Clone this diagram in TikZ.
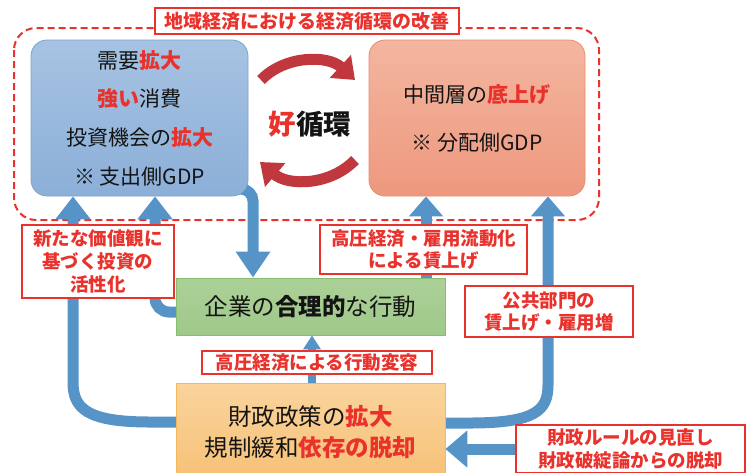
\documentclass[tikz,border=0pt]{standalone}
\usepackage{fontspec}
\setmainfont{Noto Sans CJK JP}
\usetikzlibrary{arrows.meta,backgrounds}
\definecolor{jred}{RGB}{234,50,45}
\definecolor{abl}{RGB}{86,148,200}
\definecolor{cyc}{RGB}{192,56,62}
\definecolor{txt}{RGB}{20,20,20}
\begin{document}
\begin{tikzpicture}[x=1pt,y=-1pt,
  lbl/.style={draw=jred, line width=1.3pt, fill=white, text=jred, font=\bfseries\fontsize{18.5}{22.5}\selectfont, align=center, inner sep=0pt},
  boxt/.style={align=center, inner sep=0pt, line width=0.8pt, text=txt},
  conn/.style={draw=abl, line width=11pt},
  hd/.style={-{Triangle[length=23pt,width=34pt]}},
  cyca/.style={draw=cyc, line width=11pt, -{Triangle[length=20pt,width=30pt]}},
]
\clip (0,0) rectangle (752,472);

% boxes
\node[boxt, rounded corners=16pt, top color={rgb,255:red,166;green,195;blue,226}, bottom color={rgb,255:red,140;green,175;blue,216}, draw={rgb,255:red,125;green,163;blue,207}, minimum width=217pt, minimum height=156pt, font=\fontsize{21}{38.7}\selectfont] (bb) at (139.5,118)
 {需要\textcolor{jred}{\bfseries 拡大}\\\textcolor{jred}{\bfseries 強い}消費\\投資機会の\textcolor{jred}{\bfseries 拡大}\\※ 支出側GDP};
\node[boxt, rounded corners=16pt, top color={rgb,255:red,243;green,182;blue,160}, bottom color={rgb,255:red,238;green,152;blue,126}, draw={rgb,255:red,233;green,141;blue,111}, minimum width=216pt, minimum height=156pt, font=\fontsize{21}{48}\selectfont] (sb) at (477,118)
 {中間層の\textcolor{jred}{\bfseries 底上げ}\\※ 分配側GDP};
\node[boxt, top color={rgb,255:red,172;green,209;blue,152}, bottom color={rgb,255:red,160;green,200;blue,138}, draw={rgb,255:red,136;green,188;blue,110}, minimum width=269pt, minimum height=57pt, font=\fontsize{23.5}{28}\selectfont] (gb) at (310.5,306.5)
 {企業の\textbf{合理的}な行動};
\node[boxt, top color={rgb,255:red,250;green,212;blue,156}, bottom color={rgb,255:red,246;green,192;blue,118}, draw={rgb,255:red,245;green,182;blue,92}, minimum width=269pt, minimum height=99pt, font=\fontsize{23.5}{31}\selectfont] (ob) at (310.5,432.5)
 {財政政策の\textcolor{jred}{\bfseries 拡大}\\規制緩和\textcolor{jred}{\bfseries 依存の脱却}};

\node[font=\bfseries\fontsize{27.5}{30}\selectfont, text=txt] (kj) at (310,124) {\textcolor{jred}{好}循環};

\begin{pgfonlayer}{background}
\fill[white] (0,0) rectangle (752,472);
\draw[jred, line width=2pt, dash pattern=on 7pt off 4pt, rounded corners=22pt] (14,28) rectangle (599,220);
% blue connectors
\draw[conn, -{Triangle[length=26pt,width=33pt]}, rounded corners=12pt] (236,189) -| (253,0 |- gb.north);
\draw[conn, hd] ([xshift=5pt]ob.west |- 0,422) -- (150,422) .. controls (86,422) and (73,408) .. (73,382) -- (73,0 |- bb.south);
\draw[conn, hd, rounded corners=14pt] ([xshift=5pt]gb.west |- 0,312) -| (155,0 |- bb.south);
\draw[conn, -{Triangle[length=20pt,width=33pt]}] (426,0 |- gb.north) -- (426,0 |- sb.south);
\draw[conn, -{Triangle[length=20pt,width=33pt]}] ([xshift=-5pt]ob.east |- 0,423) -- (470,423) .. controls (536,423) and (548,410) .. (548,385) -- (548,0 |- sb.south);
\draw[draw=abl, line width=8pt, -{Triangle[length=14pt,width=17pt]}] (312,0 |- ob.north) -- (312,0 |- gb.south);
\end{pgfonlayer}

% cycle arrows
\draw[cyca] (261,80) .. controls (285,55) and (328,55) .. (355,80);
\draw[cyca] (355,160) .. controls (330,186) and (288,186) .. (260,162);

% labels
\node[lbl, minimum width=304pt, minimum height=26pt, font=\bfseries\fontsize{19}{22}\selectfont] (tt) at (307,21) {地域経済における経済循環の改善};
\node[lbl, minimum width=152pt, minimum height=73pt, font=\bfseries\fontsize{18.5}{23}\selectfont] (l1) at (98,261.5) {新たな価値観に\\基づく投資の\\活性化};
\node[lbl, minimum width=207pt, minimum height=49pt] (l2) at (423.5,249.5) {高圧経済・雇用流動化\\による賃上げ};
\node[lbl, minimum width=168pt, minimum height=51pt] (l3) at (549,311.5) {公共部門の\\賃上げ・雇用増};
\node[lbl, minimum width=230pt, minimum height=23pt] (l4) at (317,362.5) {高圧経済による行動変容};
\node[lbl, minimum width=229pt, minimum height=48pt] (fr) at (630.5,449) {財政ルールの見直し\\財政破綻論からの脱却};

\begin{pgfonlayer}{background}
\draw[conn, -{Triangle[length=22pt,width=36pt]}] (fr.west) -- (fr.west -| ob.east);
\end{pgfonlayer}
\end{tikzpicture}
\end{document}
